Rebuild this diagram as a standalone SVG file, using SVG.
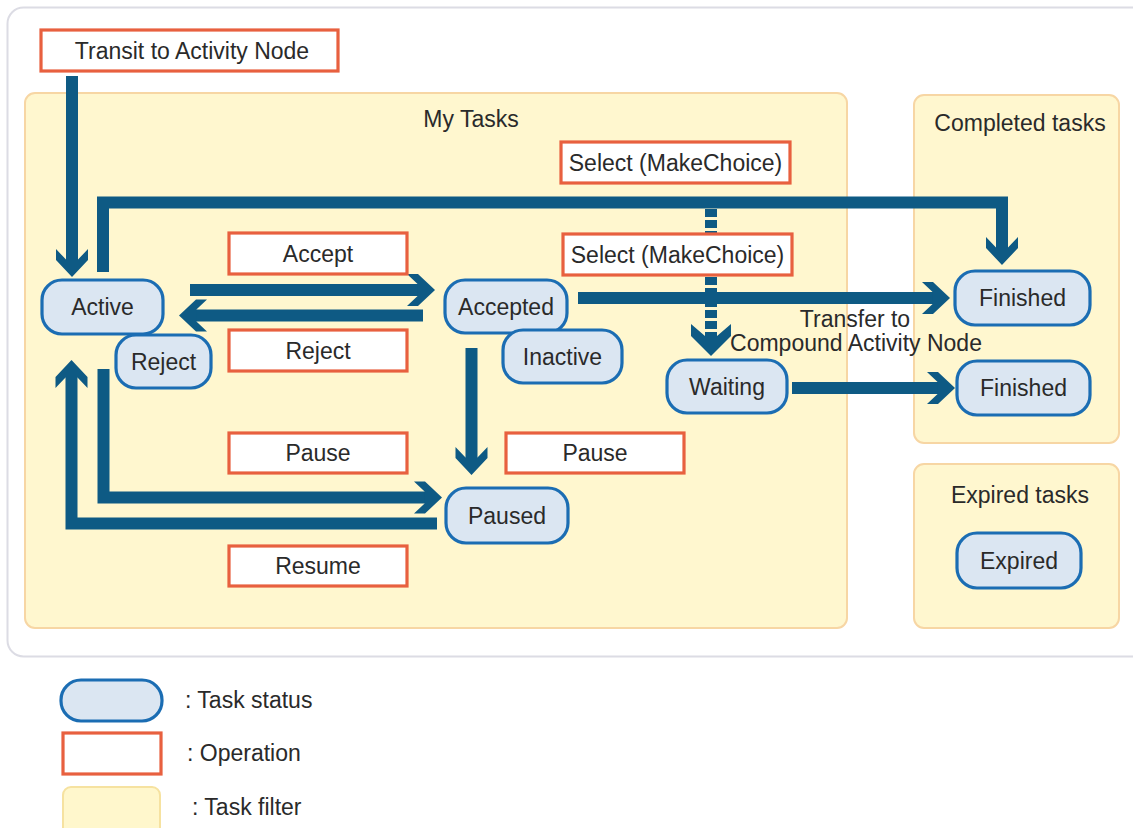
<svg xmlns="http://www.w3.org/2000/svg" width="1133" height="828" viewBox="0 0 1133 828">
  <style>
    text { font-family: "Liberation Sans", Arial, sans-serif; font-size: 23px; fill: #2a2a2a; }
    .mid { text-anchor: middle; }
    .filter { fill: #fff7cf; stroke: #f7d6a4; stroke-width: 2; }
    .status { fill: #dbe6f2; stroke: #1b6db3; stroke-width: 3.2; }
    .op { fill: #ffffff; stroke: #e8603f; stroke-width: 3.2; }
    .flow { fill: none; stroke: #0e5a84; stroke-width: 12; stroke-linejoin: miter; stroke-linecap: butt; }
    .dash { stroke-dasharray: 8 3; }
  </style>
  <defs>
    <!-- chevron style head; path end sits 15px behind the tip -->
    <marker id="head" markerUnits="userSpaceOnUse" orient="auto" refX="0" refY="0" markerWidth="40" markerHeight="40" overflow="visible">
      <path d="M15,0 L-2,-16 L-13,-16 L-2.4,-6 L-2.4,6 L-13,16 L-2,16 Z" fill="#0e5a84"/>
    </marker>
    <marker id="headBig" markerUnits="userSpaceOnUse" orient="auto" refX="0" refY="0" markerWidth="50" markerHeight="50" overflow="visible">
      <path d="M18,0 L-2,-20 L-14,-20 L-2,-6 L-2,6 L-14,20 L-2,20 Z" fill="#0e5a84"/>
    </marker>
  </defs>

  <rect width="1133" height="828" fill="#ffffff"/>

  <!-- outer frame -->
  <rect x="7.5" y="7.5" width="1140" height="649" rx="16" fill="#ffffff" stroke="#dcdce4" stroke-width="2"/>

  <!-- task filters -->
  <g id="filter-my-tasks">
    <rect class="filter" x="25" y="93" width="822" height="535" rx="10"/>
    <text class="mid" x="471" y="127">My Tasks</text>
  </g>
  <g id="filter-completed">
    <rect class="filter" x="914" y="95" width="205" height="348" rx="10"/>
    <text class="mid" x="1020" y="131">Completed tasks</text>
  </g>
  <g id="filter-expired">
    <rect class="filter" x="914" y="464" width="205" height="164" rx="10"/>
    <text class="mid" x="1020" y="503">Expired tasks</text>
  </g>

  <!-- connectors -->
  <g id="connectors">
    <path class="flow" d="M72,76 V262" marker-end="url(#head)"/>
    <path class="flow" d="M103,272 V202.5 H1002 V250" marker-end="url(#head)"/>
    <path class="flow" d="M190,290 H420" marker-end="url(#head)"/>
    <path class="flow" d="M423,315.5 H194" marker-end="url(#head)"/>
    <path class="flow" d="M103.5,369 V497.5 H427" marker-end="url(#head)"/>
    <path class="flow" d="M437,523.5 H71.5 V375" marker-end="url(#head)"/>
    <path class="flow" d="M471.5,348 V460" marker-end="url(#head)"/>
    <path class="flow dash" d="M711,209 V233"/>
    <path class="flow dash" d="M711,277 V338" marker-end="url(#headBig)"/>
    <path class="flow" d="M578,298 H935" marker-end="url(#head)"/>
    <path class="flow" d="M792,388 H940" marker-end="url(#head)"/>
    <text class="mid" x="855" y="327">Transfer to</text>
    <text class="mid" x="856" y="351">Compound Activity Node</text>
  </g>

  <!-- operations -->
  <g id="op-transit">
    <rect class="op" x="41" y="30" width="297" height="41"/>
    <text class="mid" x="192" y="58.5">Transit to Activity Node</text>
  </g>
  <g id="op-accept">
    <rect class="op" x="229" y="233" width="178" height="41"/>
    <text class="mid" x="318" y="261.5">Accept</text>
  </g>
  <g id="op-reject">
    <rect class="op" x="229" y="330" width="178" height="41"/>
    <text class="mid" x="318" y="358.5">Reject</text>
  </g>
  <g id="op-pause-left">
    <rect class="op" x="229" y="433" width="178" height="40"/>
    <text class="mid" x="318" y="461">Pause</text>
  </g>
  <g id="op-resume">
    <rect class="op" x="229" y="546" width="178" height="40"/>
    <text class="mid" x="318" y="574">Resume</text>
  </g>
  <g id="op-pause-right">
    <rect class="op" x="506" y="433" width="178" height="40"/>
    <text class="mid" x="595" y="461">Pause</text>
  </g>
  <g id="op-select-top">
    <rect class="op" x="561" y="142" width="229" height="41"/>
    <text class="mid" x="675.5" y="170.5">Select (MakeChoice)</text>
  </g>
  <g id="op-select-mid">
    <rect class="op" x="563" y="234" width="229" height="41"/>
    <text class="mid" x="677.5" y="262.5">Select (MakeChoice)</text>
  </g>

  <!-- task statuses -->
  <g id="st-active">
    <rect class="status" x="42" y="280" width="121" height="54" rx="20"/>
    <text class="mid" x="102.5" y="315">Active</text>
  </g>
  <g id="st-reject">
    <rect class="status" x="116" y="335" width="95" height="53" rx="20"/>
    <text class="mid" x="163.5" y="369.5">Reject</text>
  </g>
  <g id="st-accepted">
    <rect class="status" x="445" y="280" width="122" height="53" rx="20"/>
    <text class="mid" x="506" y="314.5">Accepted</text>
  </g>
  <g id="st-inactive">
    <rect class="status" x="503" y="330" width="119" height="53" rx="20"/>
    <text class="mid" x="562.5" y="364.5">Inactive</text>
  </g>
  <g id="st-waiting">
    <rect class="status" x="667" y="360" width="120" height="53" rx="20"/>
    <text class="mid" x="727" y="394.5">Waiting</text>
  </g>
  <g id="st-paused">
    <rect class="status" x="446" y="488" width="122" height="55" rx="20"/>
    <text class="mid" x="507" y="523.5">Paused</text>
  </g>
  <g id="st-finished-1">
    <rect class="status" x="955" y="271" width="135" height="54" rx="20"/>
    <text class="mid" x="1022.5" y="306">Finished</text>
  </g>
  <g id="st-finished-2">
    <rect class="status" x="957" y="361" width="133" height="54" rx="20"/>
    <text class="mid" x="1023.5" y="396">Finished</text>
  </g>
  <g id="st-expired">
    <rect class="status" x="957" y="533" width="124" height="55" rx="20"/>
    <text class="mid" x="1019" y="568.5">Expired</text>
  </g>

  <!-- legend -->
  <g id="legend">
    <rect class="status" x="61" y="680" width="101" height="41" rx="20"/>
    <text x="185" y="708">: Task status</text>
    <rect class="op" x="63" y="733" width="98" height="41"/>
    <text x="187" y="761">: Operation</text>
    <rect x="63" y="787" width="97" height="50" rx="8" fill="#fff7cc" stroke="#f6e2a0" stroke-width="2"/>
    <text x="192" y="815">: Task filter</text>
  </g>
</svg>
